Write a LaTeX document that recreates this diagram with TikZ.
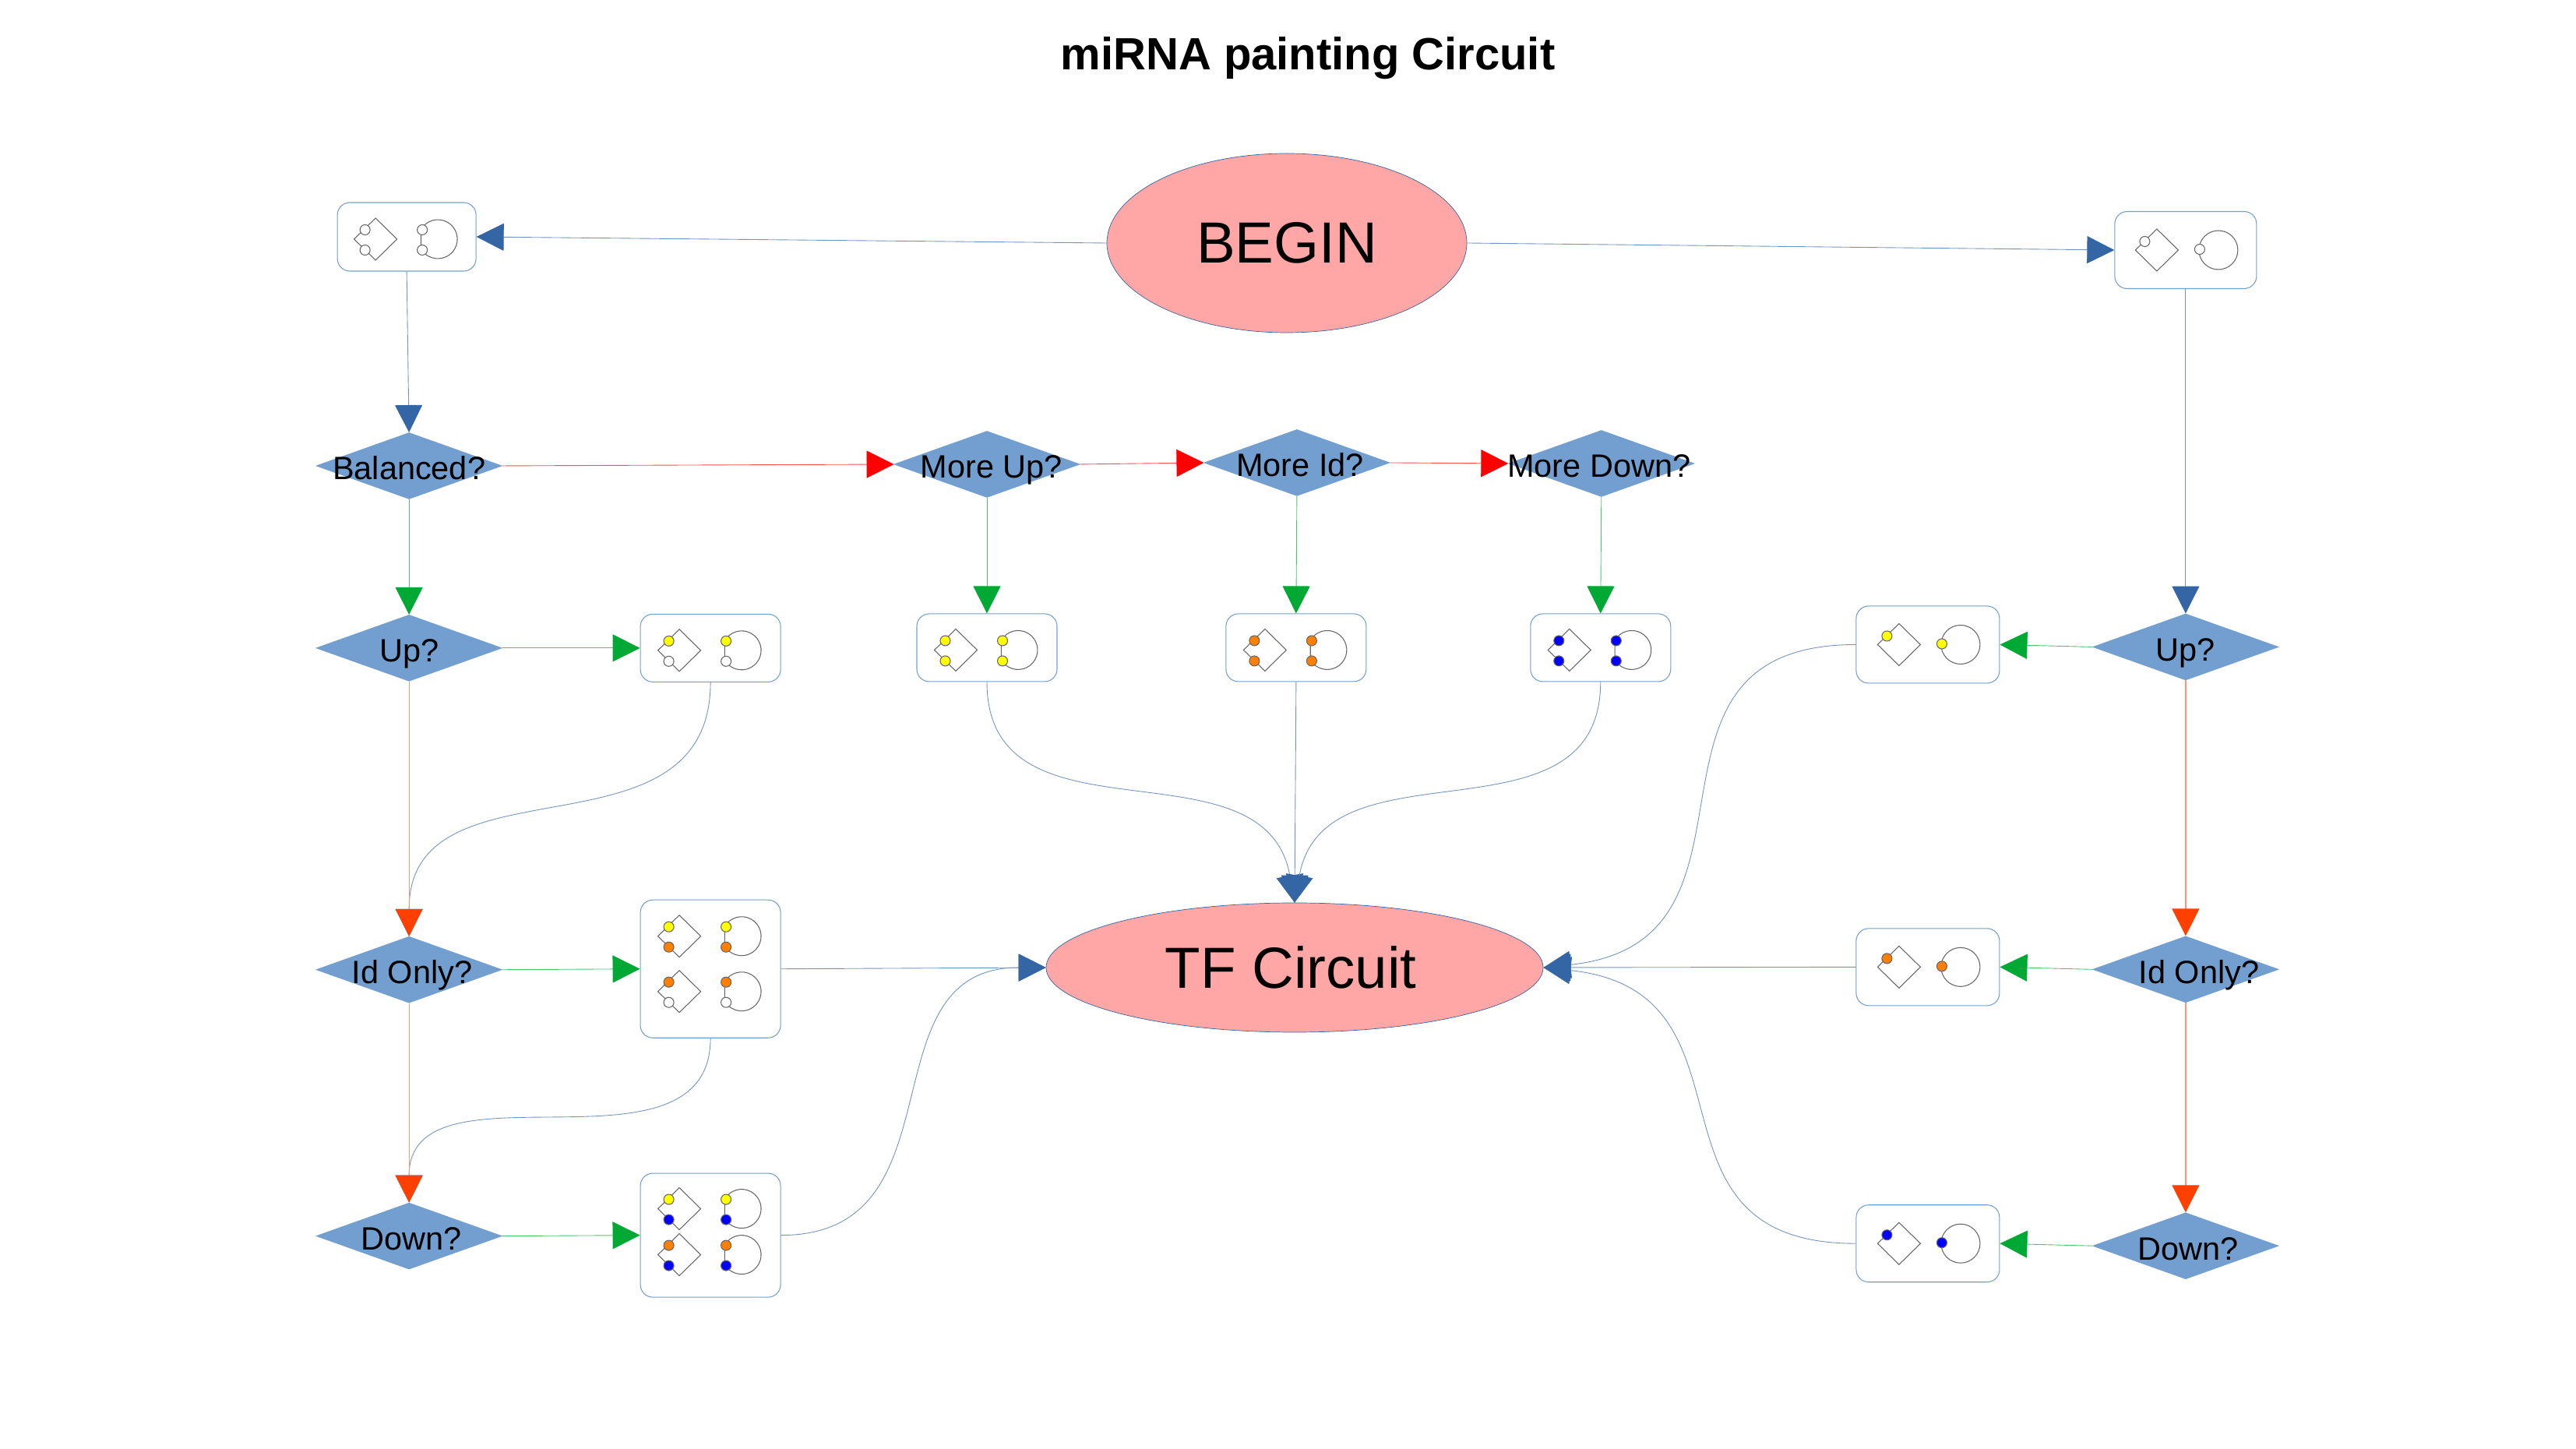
\documentclass[tikz,border=0pt]{standalone}
\usepackage{fontspec}
\setmainfont{Liberation Sans}
\usetikzlibrary{positioning,arrows.meta,shapes.geometric}
\definecolor{cfill}{HTML}{729FCF}
\definecolor{cblue}{HTML}{3465A4}
\definecolor{cgreen}{HTML}{00A933}
\definecolor{cred}{HTML}{FF0000}
\definecolor{corange}{HTML}{FF4000}
\definecolor{cpink}{HTML}{FFA6A6}
\definecolor{cyel}{HTML}{FFFF00}
\definecolor{corg}{HTML}{FF7F00}
\definecolor{cdot}{HTML}{0000FF}
% question text may stick out of its diamond
\newcommand{\ask}[2][0pt]{\makebox[0pt]{\hspace*{#1}#2}}
% box contents: box, row shift, upper dot, lower dot
\newcommand{\twodots}[4]{
  \begin{scope}[shift={(#1)},yshift=#2]
    \draw[glyph] (-.675,0)--(-.40,.27)--(-.125,0)--(-.40,-.27)--cycle;
    \draw[glyph] (.1835,.125) arc[start angle=150,end angle=-150,radius=.25]--cycle;
    \draw[glyph,fill=#3] (-.535,.12) circle (.065);
    \draw[glyph,fill=#4] (-.535,-.14) circle (.065);
    \draw[glyph,fill=#3] (.20,.12) circle (.065);
    \draw[glyph,fill=#4] (.20,-.14) circle (.065);
  \end{scope}}
\newcommand{\onedot}[2]{
  \begin{scope}[shift={(#1)}]
    \draw[glyph] (-.645,0)--(-.37,.27)--(-.095,0)--(-.37,-.27)--cycle;
    \draw[glyph] (.42,0) circle (.25);
    \draw[glyph,fill=#2] (-.525,.11) circle (.065);
    \draw[glyph,fill=#2] (.18,.01) circle (.065);
  \end{scope}}

\begin{document}
\begin{tikzpicture}[
  oval/.style={ellipse,draw=cblue,line width=.2pt,fill=cpink,inner sep=0pt,
               font=\fontsize{21.2}{25}\selectfont},
  query/.style={diamond,draw=cfill,line width=.25pt,fill=cfill,inner sep=0pt,
                minimum width=2.38cm,minimum height=.85cm,
                text height=.36cm,text depth=0pt,font=\fontsize{11.8}{14}\selectfont},
  boxed/.style={draw=cfill,line width=.3pt,fill=white,rounded corners=.16cm,
                minimum width=1.8cm,minimum height=.87cm},
  wide/.style={boxed,minimum width=1.84cm,minimum height=.99cm},
  glyph/.style={draw=black!60,line width=.3pt},
  link/.style={-{Triangle[length=.35cm,width=.35cm,color=#1]},draw=#1!70,line width=.25pt},
  blueln/.style={link=cblue},greenln/.style={link=cgreen},
  redln/.style={link=cred},orangeln/.style={link=corange,draw=corange!55,line width=.35pt}]
\useasboundingbox (0,0) rectangle (33.07,-18.60);
\node[font=\fontsize{16.5}{20}\selectfont\bfseries] (title) at (16.79,-.75) {miRNA painting Circuit};
\node[oval,minimum width=4.62cm,minimum height=2.30cm] (begin) at (16.52,-3.12) {BEGIN};
\node[oval,minimum width=6.38cm,minimum height=1.66cm] (tf) at (16.62,-12.42) {\hspace*{-.1cm}TF Circuit};

% left column
\node[boxed,minimum width=1.78cm,minimum height=.88cm,left=8.09cm of begin,yshift=.08cm] (start) {};
\node[query,below=2.065cm of start,xshift=.03cm] (bal) {\ask{Balanced?}};
\node[query,below=1.48cm of bal] (up) {\ask{Up?}};
\node[query,below=3.27cm of up] (idonly) {\ask[.08cm]{Id Only?}};
\node[query,below=2.56cm of idonly] (down) {\ask[.06cm]{Down?}};
\node[boxed,right=1.77cm of up] (upbox) {};
\node[boxed,minimum height=1.77cm,right=1.77cm of idonly,yshift=.01cm] (idbox) {};
\node[boxed,minimum height=1.59cm,right=1.77cm of down,yshift=.01cm] (downbox) {};

% middle row
\node[query,right=5.03cm of bal,yshift=.02cm] (moreup) {\ask[.12cm]{More Up?}};
\node[query,right=1.59cm of moreup,yshift=.02cm] (moreid) {\ask[.08cm]{More Id?}};
\node[query,right=1.52cm of moreid,yshift=-.01cm] (moredown) {\ask[-.06cm]{More Down?}};
\node[boxed,below=1.485cm of moreup] (upbal) {};
\node[boxed,below=1.485cm of moreid,xshift=-.01cm,yshift=-.02cm] (idbal) {};
\node[boxed,below=1.485cm of moredown,xshift=-.01cm,yshift=-.01cm] (downbal) {};

% right column
\node[wide,minimum width=1.82cm,right=8.31cm of begin,yshift=-.09cm] (single) {};
\node[query,below=4.165cm of single] (rup) {\ask{Up?}};
\node[query,below=3.28cm of rup] (ridonly) {\ask[.34cm]{Id Only?}};
\node[query,below=2.69cm of ridonly] (rdown) {\ask[.06cm]{Down?}};
\node[wide,left=1.19cm of rup,yshift=.03cm] (rupbox) {};
\node[wide,left=1.19cm of ridonly,yshift=.03cm] (ridbox) {};
\node[wide,left=1.19cm of rdown,yshift=.03cm] (rdownbox) {};

\twodots{start}{-.03cm}{white}{white}
\twodots{upbox}{-.03cm}{cyel}{white}
\twodots{idbox}{.42cm}{cyel}{corg}
\twodots{idbox}{-.29cm}{corg}{white}
\twodots{downbox}{.34cm}{cyel}{cdot}
\twodots{downbox}{-.25cm}{corg}{cdot}
\twodots{upbal}{-.03cm}{cyel}{cyel}
\twodots{idbal}{-.03cm}{corg}{corg}
\twodots{downbal}{-.03cm}{cdot}{cdot}
\onedot{single}{white}
\onedot{rupbox}{cyel}
\onedot{ridbox}{corg}
\onedot{rdownbox}{cdot}

\draw[blueln] (begin.west)--(start.east);
\draw[blueln] (begin.east)--(single.west);
\draw[blueln] (start.south)--(bal.north);
\draw[blueln] (single.south)--(rup.north);
\draw[redln] (bal.east)--(moreup.west);
\draw[redln] (moreup.east)--(moreid.west);
\draw[redln] (moreid.east)--(moredown.west);
\draw[greenln] (bal.south)--(up.north);
\draw[greenln] (moreup.south)--(upbal.north);
\draw[greenln] (moreid.south)--(idbal.north);
\draw[greenln] (moredown.south)--(downbal.north);
\draw[greenln] (up.east)--(upbox.west);
\draw[greenln] (idonly.east)--(idbox.west);
\draw[greenln] (down.east)--(downbox.west);
\draw[greenln] (rup.west)--(rupbox.east);
\draw[greenln] (ridonly.west)--(ridbox.east);
\draw[greenln] (rdown.west)--(rdownbox.east);
\draw[blueln] (upbox.south) to[out=-90,in=90,looseness=1.2] (idonly.north);
\draw[blueln] (idbox.south) to[out=-90,in=90,looseness=1.1] (down.north);
\draw[orangeln] (up.south)--(idonly.north);
\draw[orangeln] (idonly.south)--(down.north);
\draw[orangeln] (rup.south)--(ridonly.north);
\draw[orangeln] (ridonly.south)--(rdown.north);
\draw[blueln] (upbal.south) to[out=-90,in=100,looseness=1.15] (tf.north);
\draw[blueln] (idbal.south)--(tf.north);
\draw[blueln] (downbal.south) to[out=-90,in=80,looseness=1.15] (tf.north);
\draw[blueln] (idbox.east)--(tf.west);
\draw[blueln] (downbox.east) to[out=0,in=180,looseness=1.25] (tf.west);
\draw[blueln] (rupbox.west) to[out=180,in=6,looseness=1.4] (tf.east);
\draw[blueln] (ridbox.west)--(tf.east);
\draw[blueln] (rdownbox.west) to[out=180,in=-6,looseness=1.4] (tf.east);
\end{tikzpicture}
\end{document}
